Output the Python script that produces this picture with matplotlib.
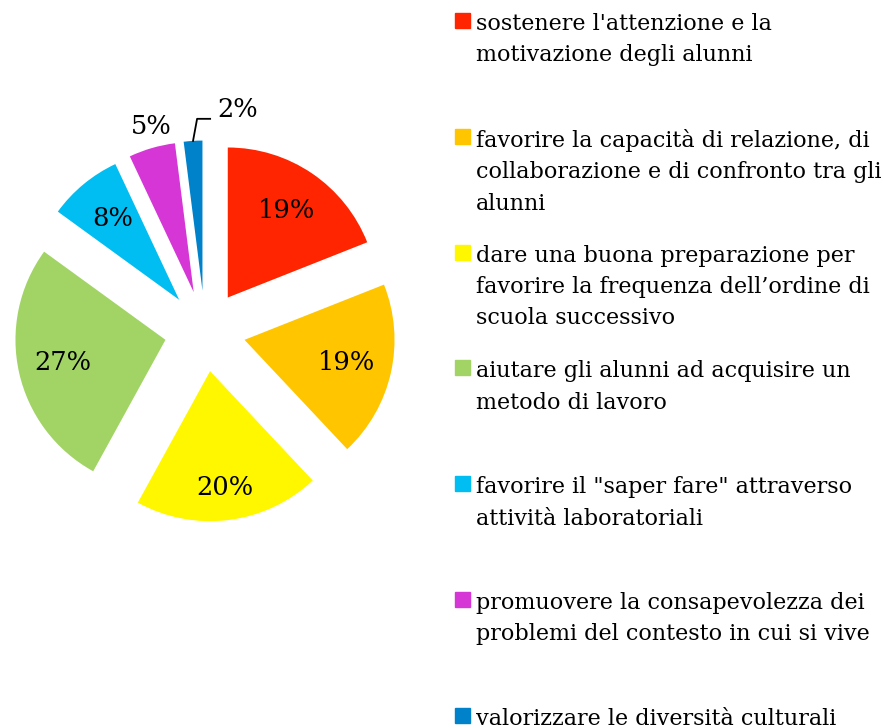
import numpy as np
import matplotlib.pyplot as plt
from matplotlib.patches import Rectangle

labels = [
    "sostenere l'attenzione e la\nmotivazione degli alunni",
    "favorire la capacità di relazione, di\ncollaborazione e di confronto tra gli\nalunni",
    "dare una buona preparazione per\nfavorire la frequenza dell\u2019ordine di\nscuola successivo",
    "aiutare gli alunni ad acquisire un\nmetodo di lavoro",
    "favorire il \"saper fare\" attraverso\nattività laboratoriali",
    "promuovere la consapevolezza dei\nproblemi del contesto in cui si vive",
    "valorizzare le diversità culturali",
]
values = [19, 19, 20, 27, 8, 5, 2]
colors = ["#FF2500", "#FFC600", "#FFF700", "#A1D465", "#00BDF2", "#D536D5", "#0082CB"]

W, H = 883, 728
fig = plt.figure(figsize=(W / 100, H / 100), dpi=100)

# pie axes: 1 data unit = 150 px, centre at (205, 331) px from top-left
ax = fig.add_axes([5 / W, 197 / H, 400 / W, 400 / H])
wedges, texts, autotexts = ax.pie(
    values, colors=colors, startangle=90, counterclock=False,
    explode=[0.27] * len(values), autopct="%.0f%%", pctdistance=0.7,
    textprops=dict(family="DejaVu Serif", fontsize=18.5, color="black"))
ax.set_xlim(-4 / 3, 4 / 3)
ax.set_ylim(-4 / 3, 4 / 3)
ax.axis("off")


def wedge_dir(w):
    mid = np.deg2rad((w.theta1 + w.theta2) / 2)
    return np.array(w.center), np.array([np.cos(mid), np.sin(mid)])


# 20% label a bit further out
c, d = wedge_dir(wedges[2])
autotexts[2].set_position(c + 0.78 * d)

# 5% label sits outside its slice
c, d = wedge_dir(wedges[5])
autotexts[5].set_position(c + 1.15 * d + np.array([0.04, 0]))

# 2% label with leader line
c, d = wedge_dir(wedges[6])
p0 = c + 1.0 * d
p1 = p0 + np.array([0.027, 0.147])
p2 = p1 + np.array([0.087, 0])
ax.plot([p0[0], p1[0], p2[0]], [p0[1], p1[1], p2[1]], color="black", lw=1.3,
        clip_on=False)
autotexts[6].set_position(p2 + np.array([0.045, 0.06]))
autotexts[6].set_ha("left")

# legend, entries spread evenly down the right side
step = 115.8
for i, (lab, col) in enumerate(zip(labels, colors)):
    top = 13 + i * step
    fig.patches.append(Rectangle((455 / W, 1 - (top + 15) / H), 15 / W, 15 / H,
                                 transform=fig.transFigure, color=col))
    fig.text(476 / W, 1 - top / H, lab, ha="left", va="top",
             family="DejaVu Serif", fontsize=16, linespacing=1.55)

fig.savefig("out.png", dpi=100)
